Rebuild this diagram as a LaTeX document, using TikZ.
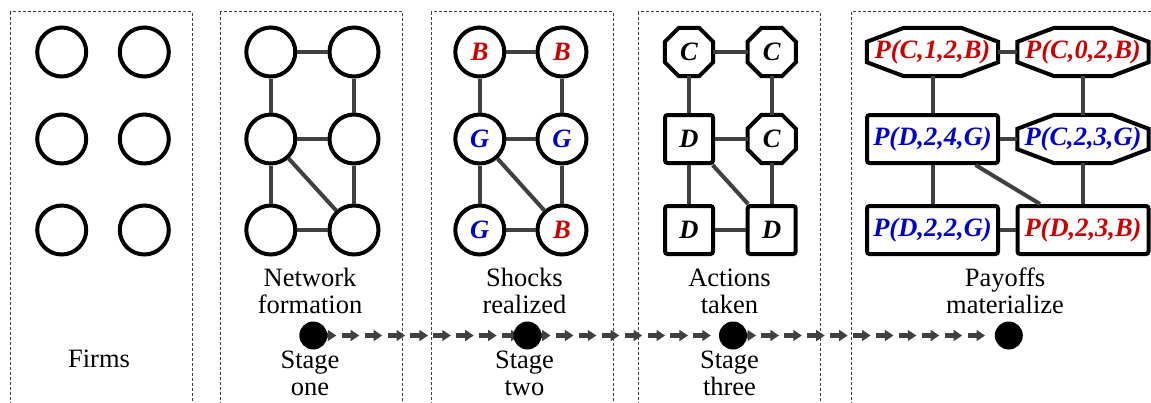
\documentclass[tikz,border=0pt]{standalone}
\usepackage{fontspec}
\setmainfont{Liberation Serif}
\usetikzlibrary{calc,decorations.markings}

\definecolor{shockred}{HTML}{CC0000}
\definecolor{shockblue}{HTML}{0000CC}
\definecolor{linkgray}{HTML}{404040}

\newcommand\captionfont{\fontsize{26.5}{26.7}\selectfont}
\newcommand\labelfont{\fontsize{26.5}{26.7}\selectfont\bfseries\itshape}

% chamfered outline around a (frameless) rectangular node: name, x-chamfer, y-chamfer
\newcommand\octframe[3]{%
  \draw[line width=4pt, line join=miter]
    ($(#1.north west)+(#2pt,0pt)$) -- ($(#1.north east)+(-#2pt,0pt)$) --
    ($(#1.north east)+(0pt,-#3pt)$) -- ($(#1.south east)+(0pt,#3pt)$) --
    ($(#1.south east)+(-#2pt,0pt)$) -- ($(#1.south west)+(#2pt,0pt)$) --
    ($(#1.south west)+(0pt,#3pt)$) -- ($(#1.north west)+(0pt,-#3pt)$) -- cycle;}

\tikzset{
  firm/.style={circle, draw=black, line width=4pt, minimum size=49pt,
    inner sep=0pt, font=\labelfont},
  actionbox/.style={rectangle, draw=black, line width=4pt, rounded corners=2.5pt,
    minimum width=48pt, minimum height=48pt, inner sep=0pt, font=\labelfont},
  actionoct/.style={rectangle, minimum width=48pt, minimum height=48pt,
    inner sep=0pt, font=\labelfont},
  payoffbox/.style={rectangle, draw=black, line width=4pt, rounded corners=2.5pt,
    minimum width=131pt, minimum height=48pt, inner sep=0pt, font=\labelfont},
  payoffoct/.style={rectangle, minimum width=131pt, minimum height=48pt,
    inner sep=0pt, font=\labelfont},
  link/.style={draw=linkgray, line width=4pt},
  panel/.style={draw=linkgray, line width=0.9pt, dash pattern=on 3pt off 2pt},
  % anchored at the baseline of the last line
  caption/.style={font=\captionfont, align=center, anchor=base, inner sep=0pt},
  milestone/.style={circle, fill=black, minimum size=28pt, inner sep=0pt},
  timeline/.style={
    decoration={markings,
      mark=between positions 23pt and -5pt step 22.9pt with {
        \fill[linkgray] (-17.5pt,-2.5pt) rectangle (-7.5pt,2.5pt);
        \fill[linkgray] (-8.5pt,-5.7pt) -- (0pt,0pt) -- (-8.5pt,5.7pt) -- cycle;}},
    postaction=decorate}
}

\begin{document}
\begin{tikzpicture}[x=1pt, y=-1pt]
\useasboundingbox (0,0) rectangle (1151,402);
\clip (0,0) rectangle (1151,402);

% stage panels
\draw[panel] (10,11.5) rectangle (192,420);
\draw[panel] (220,11.5) rectangle (402.5,420);
\draw[panel] (431,11.5) rectangle (613,420);
\draw[panel] (638,11.5) rectangle (820,420);
\draw[panel] (851,11.5) rectangle (1170,420);

% firms
\node[firm] (p1-tl) at (61.7,52) {};
\node[firm] (p1-tr) at (144.3,52) {};
\node[firm] (p1-ml) at (61.7,139) {};
\node[firm] (p1-mr) at (144.3,139) {};
\node[firm] (p1-bl) at (61.7,230) {};
\node[firm] (p1-br) at (144.3,230) {};

% network formation
\node[firm] (p2-tl) at (270.8,52) {};
\node[firm] (p2-tr) at (354,52) {};
\node[firm] (p2-ml) at (270.8,139) {};
\node[firm] (p2-mr) at (354,139) {};
\node[firm] (p2-bl) at (270.8,230) {};
\node[firm] (p2-br) at (354,230) {};

% shocks realized
\node[firm, text=shockred]  (p3-tl) at (479.8,52) {B};
\node[firm, text=shockred]  (p3-tr) at (562,52) {B};
\node[firm, text=shockblue] (p3-ml) at (479.8,139) {G};
\node[firm, text=shockblue] (p3-mr) at (562,139) {G};
\node[firm, text=shockblue] (p3-bl) at (479.8,230) {G};
\node[firm, text=shockred]  (p3-br) at (562,230) {B};

% actions taken
\node[actionoct] (p4-tl) at (689,52) {C};
\node[actionoct] (p4-tr) at (771.7,52) {C};
\node[actionbox] (p4-ml) at (689,139) {D};
\node[actionoct] (p4-mr) at (771.7,139) {C};
\node[actionbox] (p4-bl) at (689,230) {D};
\node[actionbox] (p4-br) at (771.7,230) {D};
\octframe{p4-tl}{14}{14}
\octframe{p4-tr}{14}{14}
\octframe{p4-mr}{14}{14}

% payoffs materialize
\node[payoffoct, text=shockred]  (p5-tl) at (932.5,52) {P(C,1,2,B)};
\node[payoffoct, text=shockred]  (p5-tr) at (1083,52) {P(C,0,2,B)};
\node[payoffbox, text=shockblue] (p5-ml) at (932.5,139) {P(D,2,4,G)};
\node[payoffoct, text=shockblue] (p5-mr) at (1083,139) {P(C,2,3,G)};
\node[payoffbox, text=shockblue] (p5-bl) at (932.5,230) {P(D,2,2,G)};
\node[payoffbox, text=shockred]  (p5-br) at (1083,230) {P(D,2,3,B)};
\octframe{p5-tl}{37}{14}
\octframe{p5-tr}{37}{14}
\octframe{p5-mr}{37}{14}

% links of the network
\foreach \g in {p2,p3,p4,p5} {
  \draw[link] (\g-tl) -- (\g-tr);
  \draw[link] (\g-tl) -- (\g-ml);
  \draw[link] (\g-tr) -- (\g-mr);
  \draw[link] (\g-ml) -- (\g-mr);
  \draw[link] (\g-ml) -- (\g-bl);
  \draw[link] (\g-mr) -- (\g-br);
  \draw[link] (\g-ml) -- (\g-br);
  \draw[link] (\g-bl) -- (\g-br);
}

% captions
\node[caption] (firms) at (99,367) {Firms};
\node[caption] (net)   at (310,313.3) {Network\\formation};
\node[caption] (shock) at (524.5,313.3) {Shocks\\realized};
\node[caption] (act)   at (729.5,313.3) {Actions\\taken};
\node[caption] (pay)   at (1005,313.3) {Payoffs\\materialize};
\node[caption] (s1)    at (310,395) {Stage\\one};
\node[caption] (s2)    at (524.5,395) {Stage\\two};
\node[caption] (s3)    at (729.5,395) {Stage\\three};

% timeline
\coordinate (t1) at (313.3,335.5);
\coordinate (t2) at (527.5,335.5);
\coordinate (t3) at (733,335.5);
\coordinate (t4) at (1008.8,335.5);
\path[timeline] (t1) -- (t2);
\path[timeline] (t2) -- (t3);
\path[timeline] (t3) -- (t4);
\node[milestone] (m1) at (t1) {};
\node[milestone] (m2) at (t2) {};
\node[milestone] (m3) at (t3) {};
\node[milestone] (m4) at (t4) {};
\end{tikzpicture}
\end{document}
